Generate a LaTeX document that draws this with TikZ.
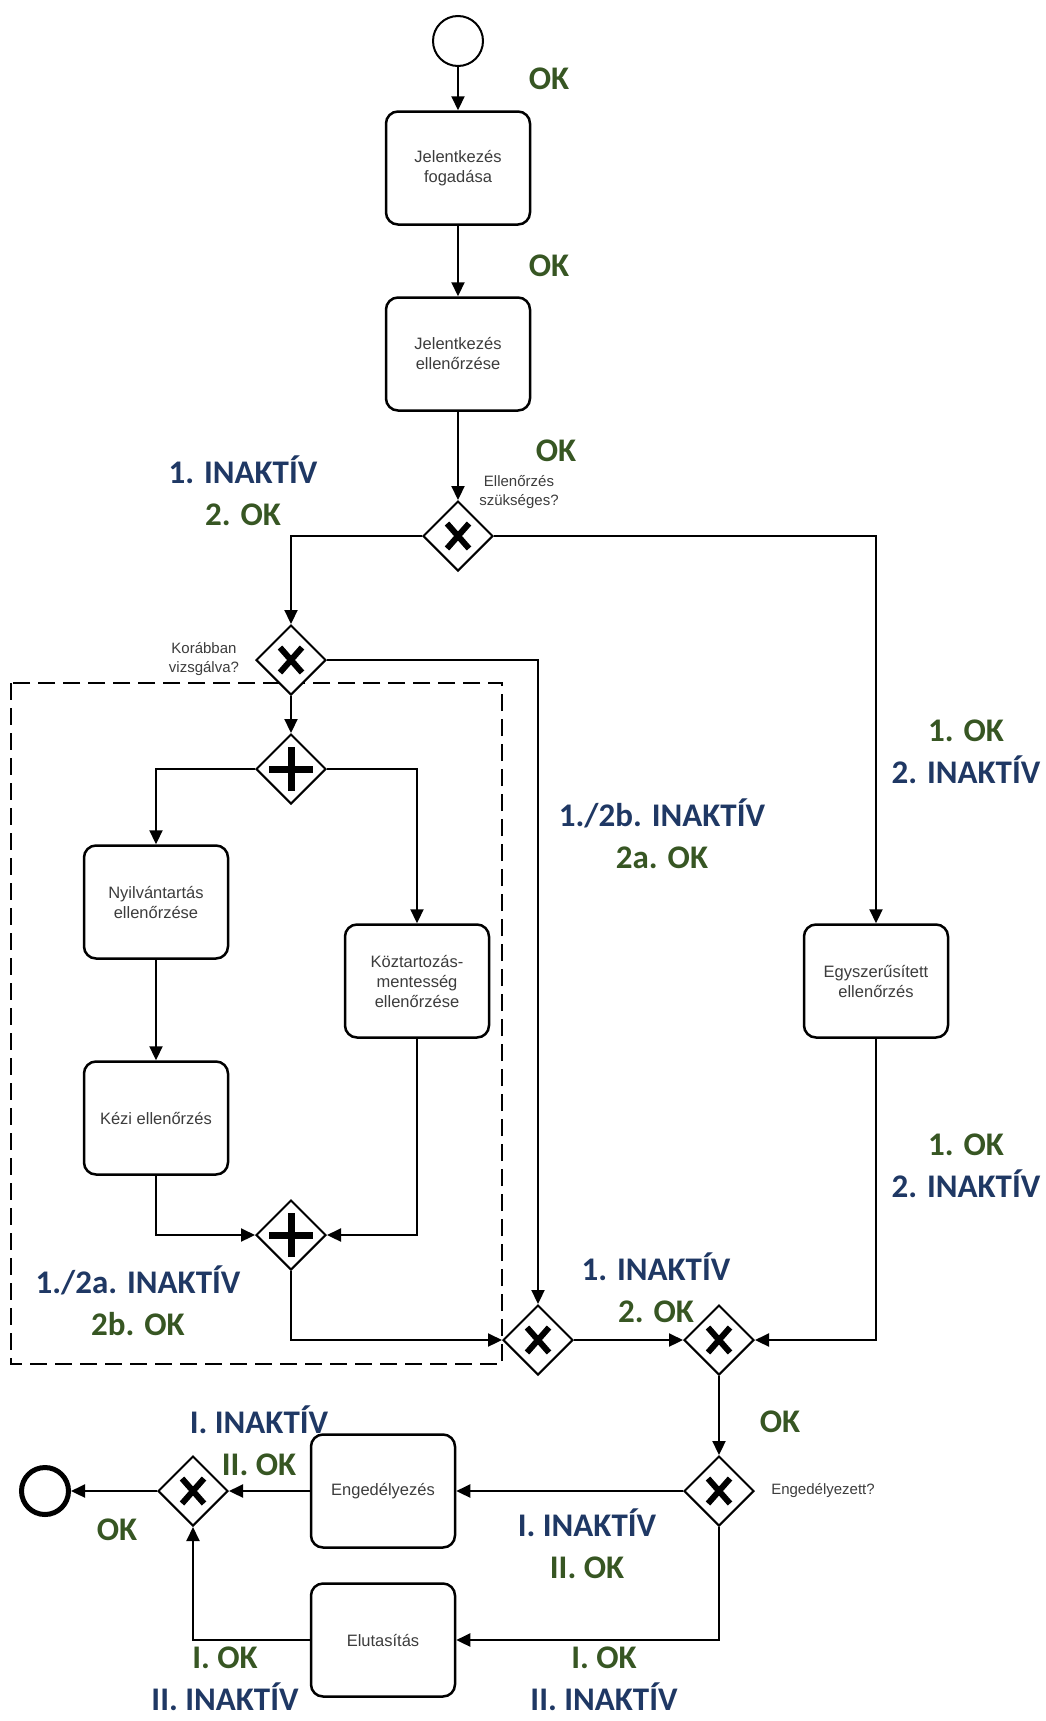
\documentclass[tikz,border=0pt]{standalone}
\usepackage{fontspec}
\setmainfont{Liberation Sans}
\newfontfamily\lblfont{Carlito}
\usepackage{tikz}
\usetikzlibrary{shapes.geometric,arrows.meta}
\definecolor{inaktiv}{RGB}{31,56,100}
\definecolor{okgreen}{RGB}{55,86,35}
\definecolor{tasktext}{RGB}{60,60,60}

\begin{document}
\begin{tikzpicture}[x=1pt, y=-1pt,
		task/.style={rectangle, rounded corners=12pt, draw, line width=2.5pt, minimum width=144pt, minimum height=113pt, align=center, text=tasktext, font=\fontsize{16.5}{20}\selectfont},
		xgate/.style={diamond, draw, fill=white, line width=2pt, minimum size=70pt, inner sep=0pt,
			path picture={\draw[line width=6pt] ([shift={(-11pt,-12.5pt)}]path picture bounding box.center) -- ([shift={(11pt,12.5pt)}]path picture bounding box.center) ([shift={(-11pt,12.5pt)}]path picture bounding box.center) -- ([shift={(11pt,-12.5pt)}]path picture bounding box.center);}},
		pgate/.style={diamond, draw, fill=white, line width=2pt, minimum size=70pt, inner sep=0pt,
			path picture={\draw[line width=7pt] ([xshift=-22pt]path picture bounding box.center) -- ([xshift=22pt]path picture bounding box.center) ([yshift=-22pt]path picture bounding box.center) -- ([yshift=22pt]path picture bounding box.center);}},
		flow/.style={-{Triangle[length=14pt,width=13pt]}, line width=2.2pt},
		lbl/.style={font=\lblfont\bfseries\fontsize{33}{42}\selectfont, align=center, inner sep=0pt},
		qlbl/.style={font=\fontsize{15}{19}\selectfont, text=tasktext, align=center, inner sep=0pt}]
		\useasboundingbox (0,0) rectangle (1046,1721);

		% Parallel part
		\draw[dashed, dash pattern=on 17pt off 8pt, line width=2.5pt] (11,683) rectangle (502,1364);

		% Start / end
		\node (start) [circle, draw, line width=2pt, minimum size=50pt] at (458,41) {};
		\node (stop) [circle, draw, line width=5pt, minimum size=47pt] at (45,1491) {};

		% Tasks
		\node (fogad) [task] at (458,168) {Jelentkezés\\fogadása};
		\node (jelell) [task] at (458,354) {Jelentkezés\\ellenőrzése};
		\node (nyilv) [task] at (156,902) {Nyilvántartás\\ellenőrzése};
		\node (kezi) [task] at (156,1118) {Kézi ellenőrzés};
		\node (koztart) [task] at (417,981) {Köztartozás-\\mentesség\\ellenőrzése};
		\node (egysz) [task] at (876,981) {Egyszerűsített\\ellenőrzés};
		\node (engedely) [task] at (383,1491) {Engedélyezés};
		\node (elutas) [task] at (383,1640) {Elutasítás};

		% Gateways
		\node (gwszuks) [xgate] at (458,536) {};
		\node (gwkorabban) [xgate] at (291,660) {};
		\node (parsplit) [pgate] at (291,769) {};
		\node (parjoin) [pgate] at (291,1235) {};
		\node (gwjoina) [xgate] at (538,1340) {};
		\node (gwjoinb) [xgate] at (719,1340) {};
		\node (gwenged) [xgate] at (719,1491) {};
		\node (gwvege) [xgate] at (193,1491) {};

		% Arrows
		\draw[flow] (start) -- (fogad);
		\draw[flow] (fogad) -- (jelell);
		\draw[flow] (jelell) -- (gwszuks);
		\draw[flow] (gwszuks.west) -| (gwkorabban.north);
		\draw[flow] (gwszuks.east) -| (egysz.north);
		\draw[flow] (gwkorabban) -- (parsplit);
		\draw[flow] (gwkorabban.east) -| (gwjoina.north);
		\draw[flow] (parsplit.west) -| (nyilv.north);
		\draw[flow] (parsplit.east) -| (koztart.north);
		\draw[flow] (nyilv) -- (kezi);
		\draw[flow] (kezi.south) |- (parjoin.west);
		\draw[flow] (koztart.south) |- (parjoin.east);
		\draw[flow] (parjoin.south) |- (gwjoina.west);
		\draw[flow] (gwjoina) -- (gwjoinb);
		\draw[flow] (egysz.south) |- (gwjoinb.east);
		\draw[flow] (gwjoinb) -- (gwenged);
		\draw[flow] (gwenged) -- (engedely);
		\draw[flow] (gwenged.south) |- (elutas.east);
		\draw[flow] (engedely) -- (gwvege);
		\draw[flow] (elutas.west) -| (gwvege.south);
		\draw[flow] (gwvege) -- (stop);

		% Questions
		\node (qszuks) [qlbl] at (519,492) {Ellenőrzés\\szükséges?};
		\node (qkorabban) [qlbl] at (204,659) {Korábban\\vizsgálva?};
		\node (qenged) [qlbl] at (823,1491) {Engedélyezett?};

		% Annotations
		\node (okA) [lbl, text=okgreen] at (549,79) {OK};
		\node (okB) [lbl, text=okgreen] at (549,266) {OK};
		\node (okC) [lbl, text=okgreen] at (556,451) {OK};
		\node (stA) [lbl] at (243,491) {\textcolor{inaktiv}{1. INAKTÍV}\\\textcolor{okgreen}{2. OK}};
		\node (stB) [lbl] at (662,834) {\textcolor{inaktiv}{1./2b. INAKTÍV}\\\textcolor{okgreen}{2a. OK}};
		\node (stC) [lbl] at (966,752) {\textcolor{okgreen}{1. OK}\\\textcolor{inaktiv}{2. INAKTÍV}};
		\node (stD) [lbl] at (966,1166) {\textcolor{okgreen}{1. OK}\\\textcolor{inaktiv}{2. INAKTÍV}};
		\node (stE) [lbl] at (656,1288) {\textcolor{inaktiv}{1. INAKTÍV}\\\textcolor{okgreen}{2. OK}};
		\node (stF) [lbl] at (138,1301) {\textcolor{inaktiv}{1./2a. INAKTÍV}\\\textcolor{okgreen}{2b. OK}};
		\node (okD) [lbl, text=okgreen] at (780,1422) {OK};
		\node (stG) [lbl] at (259,1441) {\textcolor{inaktiv}{I. INAKTÍV}\\\textcolor{okgreen}{II. OK}};
		\node (okE) [lbl, text=okgreen] at (117,1530) {OK};
		\node (stH) [lbl] at (587,1544) {\textcolor{inaktiv}{I. INAKTÍV}\\\textcolor{okgreen}{II. OK}};
		\node (stI) [lbl] at (225,1679) {\textcolor{okgreen}{I. OK}\\\textcolor{inaktiv}{II. INAKTÍV}};
		\node (stJ) [lbl] at (604,1679) {\textcolor{okgreen}{I. OK}\\\textcolor{inaktiv}{II. INAKTÍV}};
	\end{tikzpicture}
\end{document}
